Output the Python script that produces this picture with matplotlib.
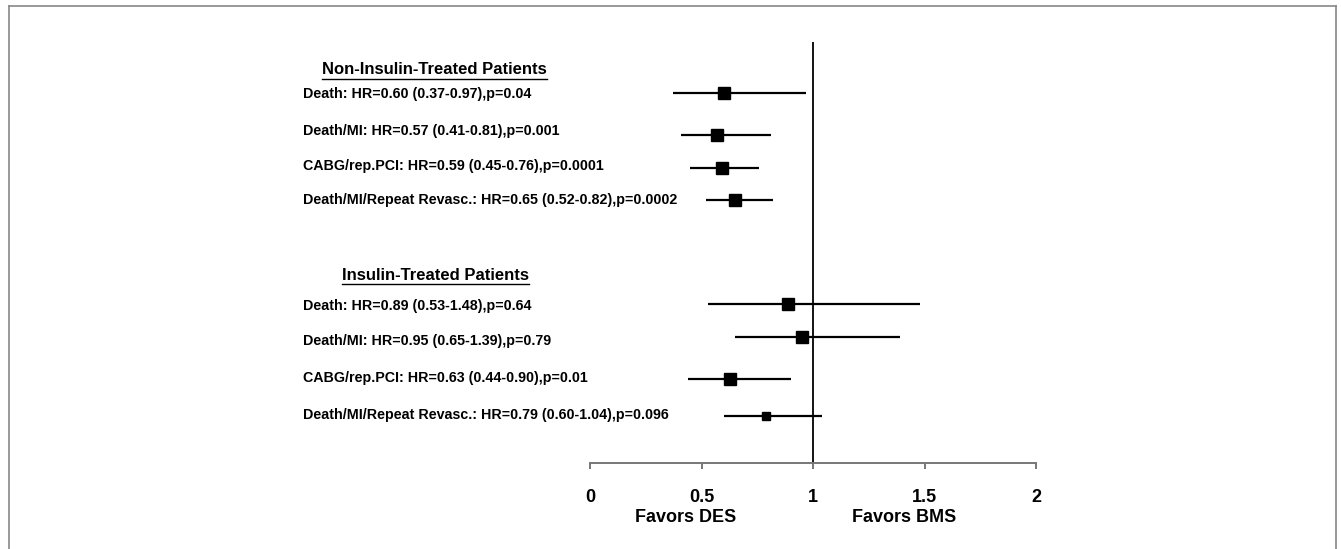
import matplotlib
matplotlib.use("Agg")
import matplotlib.pyplot as plt
from matplotlib.lines import Line2D

# ---- data ----
groups = ["Non-Insulin-Treated Patients", "Insulin-Treated Patients"]
outcomes = ["Death", "Death/MI", "CABG/rep.PCI", "Death/MI/Repeat Revasc."]
hr_non = [0.60, 0.57, 0.59, 0.65]
lo_non = [0.37, 0.41, 0.45, 0.52]
hi_non = [0.97, 0.81, 0.76, 0.82]
p_non = ["0.04", "0.001", "0.0001", "0.0002"]
hr_ins = [0.89, 0.95, 0.63, 0.79]
lo_ins = [0.53, 0.65, 0.44, 0.60]
hi_ins = [1.48, 1.39, 0.90, 1.04]
p_ins = ["0.64", "0.79", "0.01", "0.096"]
xticks = [0, 0.5, 1, 1.5, 2]
xticklabels = ["0", "0.5", "1", "1.5", "2"]
favor_labels = ["Favors DES", "Favors BMS"]

# ---- layout (pixel-like vertical positions) ----
W, H = 1341, 549
row_y_non = [93, 135, 168, 200]
text_y_non = [94, 131, 166, 200]
row_y_ins = [304, 337, 379, 416]
text_y_ins = [306, 341, 378, 415]
header_y = [70, 275]
header_x = [-1.202, -1.112]
label_x = -1.287
msizes_non = [8, 8, 8, 8]
msizes_ins = [8, 8, 8, 6]

fig = plt.figure(figsize=(W / 100, H / 100), dpi=100)
ax_left, ax_right = 590 / W, 1036 / W
ax_bottom, ax_top = (H - 463) / H, (H - 42) / H
ax = fig.add_axes([ax_left, ax_bottom, ax_right - ax_left, ax_top - ax_bottom])
ax.set_xlim(0, 2)
ax.set_ylim(463, 42)

font = "Liberation Sans"
gray = "#777777"

for spine in ["left", "right", "top"]:
    ax.spines[spine].set_visible(False)
ax.spines["bottom"].set_color(gray)
ax.spines["bottom"].set_linewidth(1.4)
ax.set_yticks([])
ax.set_xticks(xticks)
ax.set_xticklabels(xticklabels, fontsize=13, fontweight="bold", family=font)
ax.tick_params(axis="x", direction="out", length=4.5, width=1.4, color=gray, pad=14)

# reference line at HR = 1
ax.axvline(1, color="black", lw=1.3)

def draw_group(hr, lo, hi, pv, ys, tys, ms):
    for name, h, l, u, p, y, ty, m in zip(outcomes, hr, lo, hi, pv, ys, tys, ms):
        ax.plot([l, u], [y, y], color="black", lw=1.6, solid_capstyle="butt")
        ax.plot([h], [y], marker="s", color="black", markersize=m, linestyle="none")
        ax.text(label_x, ty, f"{name}: HR={h:.2f} ({l:.2f}-{u:.2f}),p={p}",
                fontsize=10.3, fontweight="bold", family=font, ha="left", va="center",
                clip_on=False)

draw_group(hr_non, lo_non, hi_non, p_non, row_y_non, text_y_non, msizes_non)
draw_group(hr_ins, lo_ins, hi_ins, p_ins, row_y_ins, text_y_ins, msizes_ins)

headers = []
for g, gx, gy in zip(groups, header_x, header_y):
    t = ax.text(gx, gy, g, fontsize=12, fontweight="bold", family=font,
                ha="left", va="center", clip_on=False)
    headers.append(t)

ax.text(0.43, 518, favor_labels[0], fontsize=13, fontweight="bold", family=font,
        ha="center", va="center", clip_on=False)
ax.text(1.41, 518, favor_labels[1], fontsize=13, fontweight="bold", family=font,
        ha="center", va="center", clip_on=False)

# underline headers
fig.canvas.draw()
renderer = fig.canvas.get_renderer()
for t in headers:
    bb = t.get_window_extent(renderer)
    y = bb.y0 - 1
    fig.add_artist(Line2D([bb.x0 / W, bb.x1 / W], [y / H, y / H], color="black", lw=1.0))

# outer frame (left, top, right)
fc = "#888888"
fig.add_artist(Line2D([9 / W, 9 / W], [0, (H - 6) / H], color=fc, lw=1.2))
fig.add_artist(Line2D([9 / W, 1336 / W], [(H - 6) / H, (H - 6) / H], color=fc, lw=1.2))
fig.add_artist(Line2D([1336 / W, 1336 / W], [0, (H - 6) / H], color=fc, lw=1.2))

fig.savefig("out.png", dpi=100)
